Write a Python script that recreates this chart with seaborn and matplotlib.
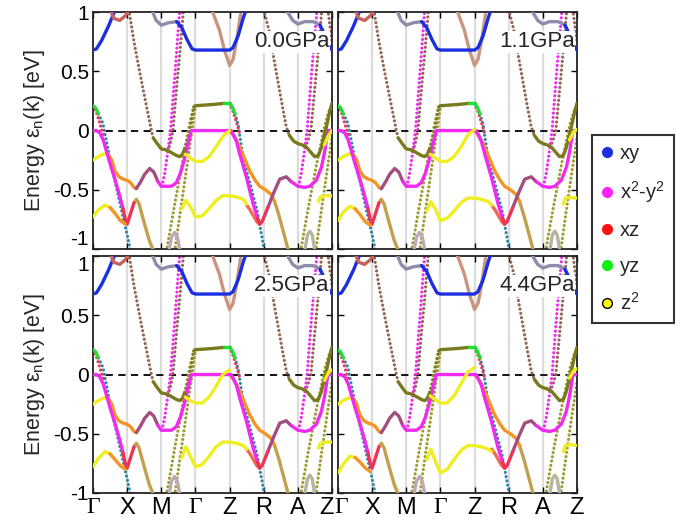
import matplotlib
matplotlib.use("Agg")
import matplotlib.pyplot as plt
import matplotlib.transforms as mtransforms
from matplotlib.lines import Line2D
import seaborn as sns

# ---- panels / axis ----
pressures = ["0.0GPa", "1.1GPa", "2.5GPa", "4.4GPa"]
kpath_labels = ["Γ", "X", "M", "Γ", "Z", "R", "A", "Z"]
kpath_pos = [0, 1, 2, 3, 4, 5, 6, 7]
energy_ticks = [-1, -0.5, 0, 0.5, 1]
energy_labels = ["-1", "-0.5", "0", "0.5", "1"]
orbitals = ["xy", "x$^2$-y$^2$", "xz", "yz", "z$^2$"]

# ---- bands shared by all panels (k along path, energy in eV) ----
xy_gx_k = [0.0, 0.1, 0.25, 0.45, 0.65]
xy_gx_e = [0.68, 0.69, 0.76, 0.88, 1.02]
xtop_k = [0.5, 0.6, 0.78, 0.95, 1.05]
xtop_e = [1.03, 0.95, 0.93, 0.97, 1.02]
mtop_k = [1.72, 1.85, 2.0, 2.2, 2.45]
mtop_e = [1.02, 0.93, 0.89, 0.91, 0.92]
xy_gz_k = [2.45, 2.6, 2.75, 2.9, 3.0, 4.0, 4.1, 4.25, 4.4, 4.48]
xy_gz_e = [0.92, 0.87, 0.77, 0.69, 0.68, 0.68, 0.7, 0.8, 0.95, 1.02]
zpocket_k = [3.48, 3.7, 3.85, 4.0, 4.1, 4.2, 4.32]
zpocket_e = [1.02, 0.85, 0.68, 0.55, 0.6, 0.75, 0.98]
atop_k = [5.66, 5.85, 6.0, 6.2, 6.45, 6.65]
atop_e = [1.02, 0.93, 0.9, 0.92, 0.92, 0.89]
xy_az_k = [6.65, 6.8, 6.9, 7.0]
xy_az_e = [0.89, 0.8, 0.72, 0.68]
edge_dot_k = [6.88, 6.95, 7.0]
edge_dot_e = [1.02, 0.86, 0.76]

yz_g_k = [0.0, 0.08, 0.16]
yz_g_e = [0.21, 0.19, 0.14]
yz_gx_k = [0.16, 0.29, 0.49, 0.7, 0.88, 1.0, 1.1]
yz_gx_e = [0.14, 0.06, -0.23, -0.5, -0.73, -0.88, -1.02]
yz_z_k = [4.0, 4.08, 4.16]
yz_z_e = [0.23, 0.2, 0.14]
yz_zr_k = [4.16, 4.25, 4.4, 4.6, 4.8, 4.95, 5.02]
yz_zr_e = [0.14, 0.05, -0.24, -0.45, -0.67, -0.9, -1.02]
xz_g_k = [0.0, 0.1, 0.2, 0.3]
xz_g_e = [0.21, 0.15, 0.06, -0.04]
xz_z_k = [4.0, 4.1, 4.2, 4.3]
xz_z_e = [0.23, 0.16, 0.07, -0.03]

x2_gx_k = [0.0, 0.1, 0.2, 0.3, 0.39, 0.5, 0.64, 0.76, 0.88]
x2_gx_e = [0.0, 0.0, -0.02, -0.08, -0.17, -0.28, -0.41, -0.53, -0.66]
xmin_k = [0.88, 0.95, 1.0, 1.1, 1.2]
xmin_e = [-0.66, -0.76, -0.79, -0.7, -0.61]
tan_xm_k = [1.2, 1.27, 1.35, 1.5, 1.65, 1.78]
tan_xm_e = [-0.61, -0.58, -0.62, -0.78, -0.93, -1.02]

z2_gx_k = [0.0, 0.15, 0.3, 0.42]
z2_gx_e = [-0.25, -0.22, -0.2, -0.19]
org_gx_k = [0.42, 0.55, 0.64, 0.76, 0.88, 1.0, 1.1, 1.2, 1.27]
org_gx_e = [-0.19, -0.25, -0.34, -0.39, -0.41, -0.42, -0.44, -0.48, -0.49]
pur_xm_k = [1.27, 1.4, 1.51, 1.66, 1.78, 1.9]
pur_xm_e = [-0.49, -0.43, -0.37, -0.32, -0.35, -0.43]
x2_mz_k = [1.9, 2.0, 2.15, 2.3, 2.44, 2.56, 2.69, 2.8, 2.88, 3.0, 4.0, 4.05,
           4.2, 4.3, 4.49, 4.69, 4.82]
x2_mz_e = [-0.43, -0.47, -0.47, -0.47, -0.44, -0.36, -0.23, -0.09, 0.0, 0.0,
           0.0, 0.0, -0.09, -0.2, -0.39, -0.62, -0.74]
rmin_k = [4.82, 4.88, 4.95, 5.05, 5.12]
rmin_e = [-0.74, -0.79, -0.77, -0.7, -0.65]
pur_ra_k = [5.12, 5.3, 5.47, 5.66, 5.8]
pur_ra_e = [-0.65, -0.52, -0.41, -0.39, -0.43]
x2_az_k = [5.8, 6.0, 6.2, 6.35, 6.54, 6.69, 6.79, 6.88, 7.0]
x2_az_e = [-0.43, -0.47, -0.48, -0.47, -0.42, -0.31, -0.17, 0.0, 0.0]

org_zr_k = [4.0, 4.12, 4.25, 4.4, 4.59, 4.75, 4.88, 5.05, 5.22, 5.32]
org_zr_e = [0.0, -0.04, -0.11, -0.21, -0.34, -0.42, -0.47, -0.5, -0.54, -0.6]
tan_ra_k = [5.32, 5.45, 5.58, 5.71, 5.78]
tan_ra_e = [-0.6, -0.72, -0.86, -1.0, -1.05]
org_lo_zr_k = [4.5, 4.6, 4.7, 4.8, 4.88]
org_lo_zr_e = [-0.63, -0.67, -0.72, -0.77, -0.79]

brn_xm_k = [1.05, 1.2, 1.35, 1.5, 1.62, 1.71, 1.76]
brn_xm_e = [1.02, 0.75, 0.52, 0.3, 0.13, 0.0, -0.06]
olv_mg_k = [1.76, 1.88, 2.0, 2.1, 2.2, 2.32, 2.44, 2.54, 2.62, 2.69]
olv_mg_e = [-0.06, -0.11, -0.155, -0.16, -0.17, -0.19, -0.21, -0.22, -0.2, -0.15]
olv_rise_g_k = [2.69, 2.76, 2.83, 2.9, 2.95]
olv_rise_g_e = [-0.15, -0.08, 0.0, 0.12, 0.2]
olv_gz_k = [2.95, 3.0, 3.5, 3.85]
olv_gz_e = [0.2, 0.21, 0.22, 0.23]
grn_z_k = [3.85, 4.0]
grn_z_e = [0.23, 0.23]
brn_ra_k = [5.0, 5.15, 5.27, 5.4, 5.55, 5.66, 5.75]
brn_ra_e = [1.02, 0.85, 0.65, 0.44, 0.2, 0.03, -0.04]
olv_az_k = [5.75, 5.88, 6.0, 6.12, 6.25, 6.37, 6.49, 6.6, 6.68, 6.75]
olv_az_e = [-0.04, -0.09, -0.11, -0.12, -0.14, -0.18, -0.22, -0.21, -0.15, -0.07]
olv_rise_z_k = [6.75, 6.82, 6.88, 6.94, 7.0]
olv_rise_z_e = [-0.07, 0.01, 0.09, 0.17, 0.23]

mag_m_k = [2.02, 2.1, 2.18, 2.27, 2.4, 2.54]
mag_m_e = [-0.47, -0.36, -0.2, 0.0, 0.48, 1.02]
mag_a_k = [6.02, 6.1, 6.18, 6.27, 6.4, 6.56]
mag_a_e = [-0.47, -0.36, -0.2, 0.0, 0.48, 1.02]
brd_m_k = [2.2, 2.27, 2.34, 2.45, 2.55, 2.65]
brd_m_e = [-0.17, -0.1, 0.0, 0.37, 0.68, 1.02]
brd_a_k = [6.22, 6.3, 6.38, 6.5, 6.6, 6.7]
brd_a_e = [-0.14, -0.08, 0.0, 0.37, 0.68, 1.02]

olvd_g1_k = [2.15, 2.4, 2.65, 2.83, 2.95]
olvd_g1_e = [-1.02, -0.61, -0.22, 0.06, 0.2]
olvd_g2_k = [2.39, 2.6, 2.8, 2.93, 3.0]
olvd_g2_e = [-1.02, -0.6, -0.2, 0.06, 0.2]
olvd_z1_k = [6.08, 6.3, 6.55, 6.8, 6.95]
olvd_z1_e = [-1.02, -0.66, -0.28, 0.06, 0.2]
olvd_z2_k = [6.52, 6.7, 6.85, 7.0]
olvd_z2_e = [-1.02, -0.65, -0.35, -0.06]

bump_m_k = [2.22, 2.3, 2.39, 2.47, 2.55]
bump_m_e = [-1.02, -0.9, -0.86, -0.9, -1.02]
bump_a_k = [6.2, 6.28, 6.35, 6.42, 6.5]
bump_a_e = [-1.02, -0.88, -0.85, -0.88, -1.02]

# ---- z2 bands that move with pressure (one row per panel) ----
z2lo_gx_k = [0.0, 0.15, 0.35, 0.5, 0.65, 0.8, 0.95]
z2lo_gx_e = [[-0.73, -0.67, -0.63, -0.65, -0.70, -0.76, -0.79],
             [-0.76, -0.69, -0.64, -0.66, -0.71, -0.77, -0.80],
             [-0.78, -0.71, -0.65, -0.67, -0.72, -0.77, -0.80],
             [-0.83, -0.76, -0.69, -0.70, -0.74, -0.79, -0.82]]
z2up_gz_k = [2.7, 2.85, 3.0, 3.2, 3.4, 3.6, 3.8, 4.0]
z2up_gz_e = [[-0.20, -0.23, -0.26, -0.26, -0.22, -0.14, -0.05, 0.00],
             [-0.20, -0.23, -0.26, -0.26, -0.22, -0.14, -0.04, 0.01],
             [-0.19, -0.22, -0.24, -0.24, -0.19, -0.10, 0.00, 0.04],
             [-0.18, -0.21, -0.24, -0.24, -0.18, -0.08, 0.02, 0.06]]
z2lo_gz_k = [2.6, 2.72, 2.85, 3.0, 3.2, 3.4, 3.6, 3.8, 4.0, 4.2, 4.4, 4.5]
z2lo_gz_e = [[-0.66, -0.59, -0.64, -0.73, -0.72, -0.66, -0.59, -0.55, -0.55, -0.56, -0.58, -0.62],
             [-0.68, -0.60, -0.66, -0.76, -0.74, -0.68, -0.61, -0.57, -0.57, -0.58, -0.60, -0.63],
             [-0.70, -0.61, -0.69, -0.78, -0.76, -0.69, -0.61, -0.57, -0.57, -0.58, -0.60, -0.63],
             [-0.72, -0.63, -0.73, -0.83, -0.80, -0.72, -0.64, -0.60, -0.60, -0.61, -0.63, -0.65]]
z2lo_az_k = [6.6, 6.66, 6.8, 7.0]
z2lo_az_e = [[-0.60, -0.56, -0.55, -0.55],
             [-0.62, -0.57, -0.565, -0.57],
             [-0.62, -0.58, -0.57, -0.57],
             [-0.65, -0.60, -0.59, -0.60]]
z2up_az_k = [6.78, 6.9, 7.0]
z2up_az_e = [[-0.12, -0.04, 0.00],
             [-0.08, -0.01, 0.01],
             [-0.05, 0.02, 0.04],
             [-0.03, 0.03, 0.05]]

# ---- colours ----
BLUE = "#1b2fe0"
GRAYB = "#8c8cab"
ROSY = "#c9957f"
REDBR = "#c8605c"
MAG = "#f02af0"
RED = "#ee3355"
GREEN = "#22dd33"
TEAL = "#2a86a8"
YEL = "#eeee22"
ORANGE = "#f39425"
TAN = "#c2a050"
PURP = "#a24e80"
OLIVE = "#7a7a1c"
OLIVED = "#9c9c30"
BROWND = "#946454"
PINKGRAY = "#c0a8b8"
GRAYOL = "#b4b4a0"

# (k, E, colour, dotted?)
shared = [
    (yz_gx_k, yz_gx_e, TEAL, True), (yz_zr_k, yz_zr_e, TEAL, True),
    (brn_xm_k, brn_xm_e, BROWND, True), (brn_ra_k, brn_ra_e, BROWND, True),
    (zpocket_k, zpocket_e, ROSY, False), (edge_dot_k, edge_dot_e, BROWND, True),
    (olvd_g1_k, olvd_g1_e, OLIVED, True), (olvd_g2_k, olvd_g2_e, OLIVED, True),
    (olvd_z1_k, olvd_z1_e, OLIVED, True), (olvd_z2_k, olvd_z2_e, OLIVED, True),
    (brd_m_k, brd_m_e, BROWND, True), (brd_a_k, brd_a_e, BROWND, True),
    (mag_m_k, mag_m_e, MAG, True), (mag_a_k, mag_a_e, MAG, True),
    (bump_m_k, bump_m_e, PINKGRAY, False), (bump_a_k, bump_a_e, GRAYOL, False),
    (xy_gx_k, xy_gx_e, BLUE, False), (xtop_k, xtop_e, REDBR, False),
    (mtop_k, mtop_e, GRAYB, False), (xy_gz_k, xy_gz_e, BLUE, False),
    (atop_k, atop_e, GRAYB, False), (xy_az_k, xy_az_e, BLUE, False),
    (tan_xm_k, tan_xm_e, TAN, False), (tan_ra_k, tan_ra_e, TAN, False),
    (org_zr_k, org_zr_e, ORANGE, False), (org_lo_zr_k, org_lo_zr_e, "#f06a50", False),
    (z2_gx_k, z2_gx_e, YEL, False), (org_gx_k, org_gx_e, ORANGE, False),
    (pur_xm_k, pur_xm_e, PURP, False), (pur_ra_k, pur_ra_e, PURP, False),
    (x2_gx_k, x2_gx_e, MAG, False), (xmin_k, xmin_e, RED, False),
    (x2_mz_k, x2_mz_e, MAG, False), (rmin_k, rmin_e, RED, False),
    (x2_az_k, x2_az_e, MAG, False),
    (olv_mg_k, olv_mg_e, OLIVE, False), (olv_rise_g_k, olv_rise_g_e, OLIVE, True),
    (olv_az_k, olv_az_e, OLIVE, False), (olv_rise_z_k, olv_rise_z_e, OLIVE, False),
    (olv_gz_k, olv_gz_e, OLIVE, False), (grn_z_k, grn_z_e, GREEN, False),
    (yz_g_k, yz_g_e, GREEN, False), (yz_z_k, yz_z_e, GREEN, False),
    (xz_g_k, xz_g_e, RED, True), (xz_z_k, xz_z_e, RED, True),
]

sns.set_theme(style="white")
plt.rcParams["font.family"] = ["Liberation Sans", "DejaVu Sans"]
plt.rcParams["mathtext.default"] = "regular"


def draw_band(ax, k, e, color, dotted):
    if dotted:
        sns.lineplot(x=k, y=e, ax=ax, color=color, lw=2.3, sort=False, estimator=None,
                     linestyle=(0, (0.01, 1.35)), dash_capstyle="round", zorder=2)
    else:
        sns.lineplot(x=k, y=e, ax=ax, color=color, lw=2.4, sort=False, estimator=None,
                     solid_capstyle="round", zorder=3)


fig = plt.figure(figsize=(6.85, 5.24), dpi=100)
lefts = [0.1358, 0.4934]
bottoms = [0.5248, 0.0592]
width, height = 0.3489, 0.452

for i, label in enumerate(pressures):
    row, col = divmod(i, 2)
    ax = fig.add_axes([lefts[col], bottoms[row], width, height])
    for kp in kpath_pos[1:-1]:
        ax.axvline(kp, color="#dcdcdc", lw=1.6, zorder=0)
    ax.axhline(0, color="black", lw=1.3, ls=(0, (4, 3)), zorder=1)

    for k, e, c, dotted in shared:
        draw_band(ax, k, e, c, dotted)
    # pressure dependent z2 bands
    draw_band(ax, z2lo_gx_k[:4], z2lo_gx_e[i][:4], YEL, False)
    draw_band(ax, z2lo_gx_k[3:], z2lo_gx_e[i][3:], ORANGE, False)
    draw_band(ax, z2up_gz_k, z2up_gz_e[i], YEL, False)
    draw_band(ax, z2lo_gz_k, z2lo_gz_e[i], YEL, False)
    draw_band(ax, z2lo_az_k, z2lo_az_e[i], YEL, False)
    draw_band(ax, z2up_az_k, z2up_az_e[i], YEL, False)

    ax.text(0.99, 0.875, label, transform=ax.transAxes, ha="right", va="center",
            fontsize=16, zorder=6,
            bbox=dict(facecolor="white", edgecolor="none", pad=0.5))

    ax.set_xlim(0, 7)
    ax.set_ylim(-1, 1)
    ax.set_xticks(kpath_pos)
    ax.set_yticks(energy_ticks)
    ax.tick_params(direction="in", length=4, width=1, top=True, right=True,
                   bottom=True, left=True, labelsize=15, pad=3, colors="black")
    if row == 1:
        ax.set_xticklabels(kpath_labels, fontsize=17)
        xlabs = ax.get_xticklabels()
        for t in xlabs:
            if t.get_text() == "Γ":
                t.set_fontfamily(["Liberation Serif", "DejaVu Serif"])
        # nudge the labels that meet at the panel join
        if col == 0:
            xlabs[-1].set_transform(xlabs[-1].get_transform() + mtransforms.ScaledTranslation(
                -4 / 72, 0, fig.dpi_scale_trans))
        else:
            xlabs[0].set_transform(xlabs[0].get_transform() + mtransforms.ScaledTranslation(
                2 / 72, 0, fig.dpi_scale_trans))
    else:
        ax.set_xticklabels([])
    if col == 0:
        ax.set_yticklabels(energy_labels)
        ylabs = ax.get_yticklabels()
        if row == 0:
            ylabs[0].set_verticalalignment("bottom")
        else:
            ylabs[-1].set_verticalalignment("top")
        ax.set_ylabel("Energy ε$_n$(k) [eV]", fontsize=15.5, labelpad=4)
    else:
        ax.set_yticklabels([])
    for sp in ax.spines.values():
        sp.set_color("#222222")
        sp.set_linewidth(1.3)
    ax.set_xlabel("")

handles = [
    Line2D([], [], ls="none", marker="o", markersize=7, markerfacecolor=BLUE, markeredgecolor=BLUE),
    Line2D([], [], ls="none", marker="o", markersize=7, markerfacecolor="#ff22ff", markeredgecolor="#ff22ff"),
    Line2D([], [], ls="none", marker="o", markersize=7, markerfacecolor="#ff1111", markeredgecolor="#ff1111"),
    Line2D([], [], ls="none", marker="o", markersize=7, markerfacecolor="#11ee11", markeredgecolor="#11ee11"),
    Line2D([], [], ls="none", marker="o", markersize=7, markerfacecolor="#ffff00", markeredgecolor="black"),
]
leg = fig.legend(handles, orbitals, loc="center left", bbox_to_anchor=(0.864, 0.563),
                 fontsize=14.5, frameon=True, fancybox=False, edgecolor="black",
                 handlelength=0.6, handletextpad=0.35, labelspacing=0.8,
                 borderpad=0.45, borderaxespad=0)
leg.get_frame().set_linewidth(1.5)

fig.savefig("out.png", dpi=100)
